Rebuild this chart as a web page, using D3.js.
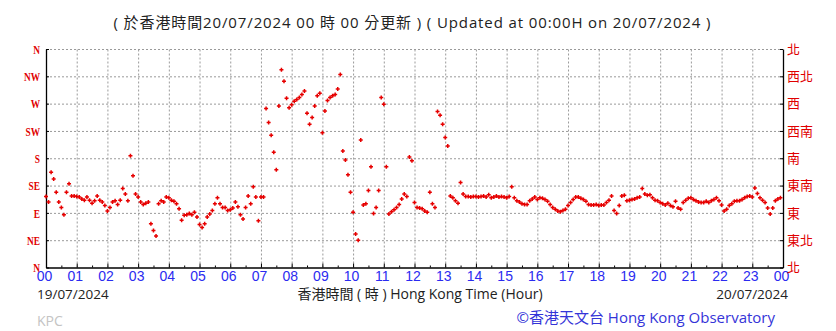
<!DOCTYPE html>
<html>
<head>
<meta charset="utf-8">
<script src="https://cdn.jsdelivr.net/npm/d3@7"></script>
<style>
body{margin:0;background:#fff}
</style>
</head>
<body>
<div id="chart"></div>
<script>
// tick labels
var hourLabels = ["00","01","02","03","04","05","06","07","08","09","10","11","12",
                  "13","14","15","16","17","18","19","20","21","22","23","00"];
var dirTicks = [0,45,90,135,180,225,270,315,360];
var dirLabelsEn = ["N","NE","E","SE","S","SW","W","NW","N"];
var dirLabelsZh = ["北","東北","東","東南","南","西南","西","西北","北"];

// wind direction (degrees), one reading every 5 minutes from 00:00
var stepMinutes = 5;
var dirH00_05 = [
  117,108,157,146,124,108, 99, 87,124,138,118,118,
  117,116,113,111,116,111,106,110,118,111,108,102,
   93, 99,108,110,104,111,130,121,110,184,151,121,
  116,108,104,106,108, 72, 61, 52,105,110,108,116,
  115,111,109,105, 97, 78, 86, 87, 89, 87, 91, 83,
   71, 66, 72, 83, 88, 94,105,115,105, 99, 99, 94];
var dirH06_11 = [
   95, 98,108,100, 87, 80, 99,118,105,133,116, 77,
  116,116,262,239,218,190,161,266,326,307,279,263,
  268,274,277,280,285,291,254,236,247,266,283,287,
  222,258,275,280,283,285,294,318,192,177,153,124,
   91, 55, 45,210,103,105,127,166, 89, 99,127,280,
  269,166, 88, 92, 95, 99,104,113,121,117,182,176];
var dirH12_17 = [
  107, 99, 98, 97, 93, 91,124,105, 99,257,251,236,
  214,200,118,115,110,106,140,121,117,117,116,117,
  117,116,117,118,116,120,115,116,118,116,117,116,
  115,117,133,115,110,108,105,104,104,110,113,116,
  112,115,114,112,109,104, 99, 96, 93, 92, 94, 96,
  102,107,112,116,116,114,112,109,104,103,103,104];
var dirH18_23 = [
  102,103,103,107,111,118, 94, 89,102,118,119,110,
  111,112,113,115,116,130,121,119,120,115,111,110,
  107,105,103,106,102,100,109, 98, 96,107,111,114,
  115,112,110,108,107,107,109,107,110,112,115,110,
  103, 93, 96,102,105,109,110,110,112,115,117,118,
  116,131,122,115,111,107, 98, 88, 98,110,113,115];

var dirAll = dirH00_05.concat(dirH06_11, dirH12_17, dirH18_23);
var points = dirAll.map(function(d,i){ return {h: i*stepMinutes/60, dir: d}; });

var width = 836, height = 331;
var plotL = 46, plotR = 783, plotT = 49, plotB = 267.5;

var svg = d3.select("#chart").append("svg")
            .attr("width", width)
            .attr("height", height)
            .style("font-family", "'Liberation Sans',sans-serif");

var x = d3.scaleLinear().domain([0,24]).range([plotL,plotR]);
var y = d3.scaleLinear().domain([0,360]).range([plotB,plotT]);

// grid
var gridX = svg.append("g")
    .attr("transform","translate(0,"+plotB+")")
    .call(d3.axisBottom(x).tickValues(d3.range(1,24)).tickSize(-(plotB-plotT)).tickFormat(""));
var gridY = svg.append("g")
    .attr("transform","translate("+plotL+",0)")
    .call(d3.axisLeft(y).tickValues(dirTicks.slice(1)).tickSize(-(plotR-plotL)).tickFormat(""));
[gridX, gridY].forEach(function(g){
  g.select(".domain").remove();
  g.selectAll("line").attr("stroke","#9a9a9a").attr("stroke-dasharray","2,2");
});

// minor ticks on the time axis
svg.append("g")
    .attr("transform","translate(0,"+plotB+")")
    .call(d3.axisBottom(x).tickValues(d3.range(0.5,24,1)).tickSizeInner(-2).tickSizeOuter(0).tickFormat(""))
    .select(".domain").remove();

// time axis
var xAxis = svg.append("g")
    .attr("transform","translate(0,"+plotB+")")
    .call(d3.axisBottom(x).tickValues(d3.range(0,25))
          .tickSizeInner(-4).tickSizeOuter(0).tickPadding(4)
          .tickFormat(function(d,i){ return hourLabels[i]; }));
xAxis.selectAll("text")
    .attr("dx","-2")
    .style("font-size","14px")
    .attr("fill","#2b2bf0");

// left axis, English points
var yLeft = svg.append("g")
    .attr("transform","translate("+plotL+",0)")
    .call(d3.axisLeft(y).tickValues(dirTicks).tickSizeInner(-3).tickSizeOuter(0).tickPadding(7)
          .tickFormat(function(d,i){ return dirLabelsEn[i]; }));
yLeft.selectAll("text")
    .attr("x", null)
    .attr("transform","translate(-6,0) scale(0.72,1)")
    .style("font-family","'Liberation Serif',serif")
    .style("font-size","13px")
    .style("font-weight","bold")
    .attr("fill","#e00000");

// right axis, Chinese points
var yRight = svg.append("g")
    .attr("transform","translate("+plotR+",0)")
    .call(d3.axisRight(y).tickValues(dirTicks).tickSizeInner(-3).tickSizeOuter(0).tickPadding(4)
          .tickFormat(function(d,i){ return dirLabelsZh[i]; }));
yRight.selectAll("text")
    .style("font-family","'Noto Sans CJK TC',sans-serif")
    .style("font-size","13px")
    .attr("fill","#e00000");

[xAxis, yLeft, yRight].forEach(function(g){
  g.select(".domain").attr("stroke","#000").attr("stroke-width",1.3);
  g.selectAll(".tick line").attr("stroke","#000");
});

// readings
svg.append("g").selectAll("path")
    .data(points)
    .enter().append("path")
    .attr("transform", function(d){ return "translate("+x(d.h)+","+y(d.dir)+")"; })
    .attr("d","M-2,0H2M0,-2V2")
    .attr("stroke","#e60000")
    .attr("stroke-width",1.5);

// texts
var cjk = "'Open Sans','Noto Sans CJK TC',sans-serif";
svg.append("text")
    .attr("x",412).attr("y",28)
    .attr("text-anchor","middle")
    .attr("textLength",597).attr("lengthAdjust","spacing")
    .style("font-family",cjk).style("font-size","15px")
    .attr("fill","#222")
    .text("( 於香港時間20/07/2024 00 時 00 分更新 ) ( Updated at 00:00H on 20/07/2024 )");

svg.append("text")
    .attr("x",37).attr("y",299)
    .style("font-family",cjk).style("font-size","13.5px")
    .attr("fill","#222")
    .text("19/07/2024");

svg.append("text")
    .attr("x",420).attr("y",299)
    .attr("text-anchor","middle")
    .style("font-family",cjk).style("font-size","14px")
    .attr("fill","#222")
    .text("香港時間 ( 時 ) Hong Kong Time (Hour)");

svg.append("text")
    .attr("x",788).attr("y",299)
    .attr("text-anchor","end")
    .style("font-family",cjk).style("font-size","13.5px")
    .attr("fill","#222")
    .text("20/07/2024");

svg.append("text")
    .attr("x",37).attr("y",326)
    .style("font-family",cjk).style("font-size","14px")
    .attr("fill","#c4c4c4")
    .text("KPC");

svg.append("text")
    .attr("x",775).attr("y",323)
    .attr("text-anchor","end")
    .style("font-family",cjk).style("font-size","15px")
    .attr("fill","#3434d8")
    .text("©香港天文台 Hong Kong Observatory");
</script>
</body>
</html>
